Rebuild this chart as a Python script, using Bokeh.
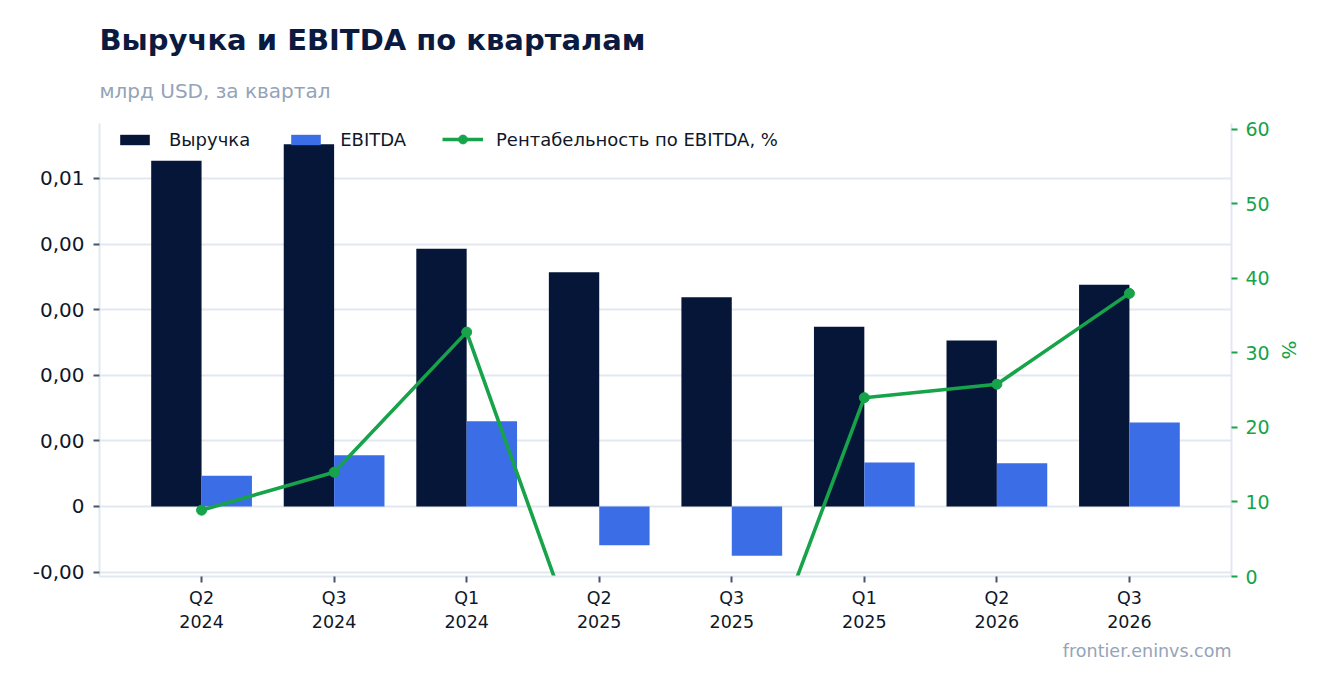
from bokeh.plotting import figure
from bokeh.models import (Range1d, LinearAxis, FixedTicker, CustomJSTickFormatter,
                          Legend, LegendItem, Title, ColumnDataSource)
from bokeh.transform import dodge
from bokeh.embed import file_html
from bokeh.resources import INLINE

quarters = ["Q2\n2024", "Q3\n2024", "Q1\n2024", "Q2\n2025",
            "Q3\n2025", "Q1\n2025", "Q2\n2026", "Q3\n2026"]
revenue = [0.00527, 0.00552, 0.00393, 0.00357, 0.00319, 0.00274, 0.00253, 0.00338]
ebitda = [0.00047, 0.00078, 0.00130, -0.00059, -0.00075, 0.00067, 0.00066, 0.00128]
margin = [8.9, 14.0, 32.8, -17.0, -23.5, 24.0, 25.8, 38.0]
left_ticks = [-0.001, 0.0, 0.001, 0.002, 0.003, 0.004, 0.005]
right_ticks = [0, 10, 20, 30, 40, 50, 60]

FONT = "DejaVu Sans"
NAVY = "#061639"
BLUE = "#3b6de6"
GREEN = "#16a34a"
GRID = "#e2e8f0"
MUTED = "#94a3b8"
TEXT = "#0f172a"
TICK = "#475569"

xs = list(range(len(quarters)))
src = ColumnDataSource(dict(x=xs, revenue=revenue, ebitda=ebitda, margin=margin))

p = figure(width=1314, height=677, output_backend="svg", toolbar_location=None,
           x_range=Range1d(-0.77, 7.77), y_range=Range1d(-0.001067, 0.005838),
           min_border_left=99, min_border_right=83, min_border_top=123,
           min_border_bottom=101)
p.outline_line_color = None
p.background_fill_color = "white"
p.border_fill_color = "white"

# titles: p.title is outermost; the added subtitle sits next to the frame
p.title.text = "Выручка и EBITDA по кварталам"
p.title.text_font = FONT
p.title.text_font_size = "29px"
p.title.text_font_style = "bold"
p.title.text_color = "#0b1a40"
p.title.standoff = 0
sub = Title(text="млрд USD, за квартал", text_font=FONT, text_font_size="20px",
            text_font_style="normal", text_color=MUTED, standoff=41)
p.add_layout(sub, "above")

r1 = p.vbar(x=dodge("x", -0.19), top="revenue", width=0.38, source=src,
            color=NAVY, line_color=None)
r2 = p.vbar(x=dodge("x", 0.19), top="ebitda", width=0.38, source=src,
            color=BLUE, line_color=None)

p.extra_y_ranges = {"pct": Range1d(0, 60.8)}
r3 = p.line(x="x", y="margin", source=src, y_range_name="pct",
            line_color=GREEN, line_width=3.6)
r4 = p.scatter(x="x", y="margin", source=src, y_range_name="pct",
               marker="circle", size=10, color=GREEN)

# axes
xaxis = p.below[0]
xaxis.ticker = FixedTicker(ticks=xs)
xaxis.major_label_overrides = {i: q for i, q in zip(xs, quarters)}
xaxis.major_label_text_font = FONT
xaxis.major_label_text_font_size = "17.5px"
xaxis.major_label_text_color = TEXT
xaxis.axis_line_color = GRID
xaxis.axis_line_width = 2
xaxis.major_tick_line_color = TICK
xaxis.major_tick_line_width = 2
xaxis.major_tick_in = 0
xaxis.major_tick_out = 6
xaxis.minor_tick_line_color = None

yaxis = p.left[0]
yaxis.ticker = FixedTicker(ticks=left_ticks)
yaxis.formatter = CustomJSTickFormatter(code="""
    if (Math.abs(tick) < 1e-12) { return "0"; }
    return tick.toFixed(2).replace(".", ",");
""")
yaxis.major_label_text_font = FONT
yaxis.major_label_text_font_size = "20px"
yaxis.major_label_text_color = TEXT
yaxis.major_label_standoff = 9
yaxis.axis_line_color = GRID
yaxis.axis_line_width = 2
yaxis.major_tick_line_color = TICK
yaxis.major_tick_line_width = 2
yaxis.major_tick_in = 0
yaxis.major_tick_out = 6
yaxis.minor_tick_line_color = None

ax2 = LinearAxis(y_range_name="pct", ticker=FixedTicker(ticks=right_ticks), axis_label="%")
ax2.major_label_text_font = FONT
ax2.major_label_text_font_size = "19px"
ax2.major_label_text_color = GREEN
ax2.major_label_standoff = 8
ax2.axis_label_text_font = FONT
ax2.axis_label_text_font_size = "20px"
ax2.axis_label_text_font_style = "normal"
ax2.axis_label_text_color = GREEN
ax2.axis_label_standoff = 4
ax2.axis_line_color = GRID
ax2.axis_line_width = 2
ax2.major_tick_line_color = GREEN
ax2.major_tick_line_width = 2
ax2.major_tick_in = 0
ax2.major_tick_out = 6
ax2.minor_tick_line_color = None
p.add_layout(ax2, "right")

p.xgrid.grid_line_color = None
p.ygrid.grid_line_color = GRID
p.ygrid.grid_line_width = 2

legend_bars = Legend(items=[LegendItem(label="Выручка", renderers=[r1]),
                            LegendItem(label="EBITDA", renderers=[r2])],
                     orientation="horizontal", location=(17, 426),
                     margin=0, padding=0, spacing=37, glyph_width=37, glyph_height=13,
                     label_standoff=16, label_text_font=FONT, label_text_font_size="18px",
                     label_text_color=TEXT, background_fill_alpha=0, border_line_color=None)
p.add_layout(legend_bars)

legend_line = Legend(items=[LegendItem(label="Рентабельность по EBITDA, %", renderers=[r3, r4])],
                     orientation="horizontal", location=(343, 426),
                     margin=0, padding=0, glyph_width=41, glyph_height=22,
                     label_standoff=13, label_text_font=FONT, label_text_font_size="18px",
                     label_text_color=TEXT, background_fill_alpha=0, border_line_color=None)
p.add_layout(legend_line)

footer = Title(text="frontier.eninvs.com", align="right", text_font=FONT,
               text_font_size="17.5px", text_font_style="normal", text_color=MUTED,
               standoff=9)
p.add_layout(footer, "below")

open("out.html", "w").write(file_html(p, INLINE))
